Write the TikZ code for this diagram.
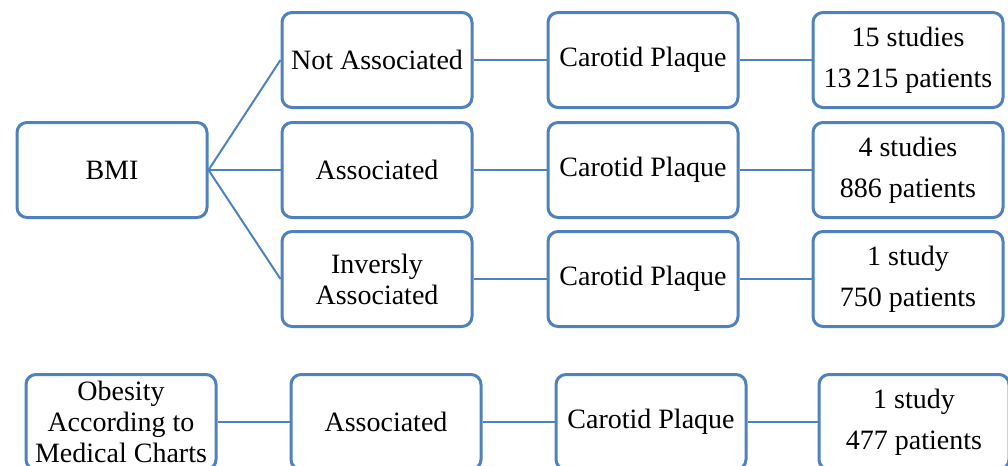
\documentclass[tikz,border=0pt]{standalone}
\usepackage{fontspec}
\setmainfont{Liberation Serif}

\begin{document}
\begin{tikzpicture}[
  x = 0.5pt, y = -0.5pt,
  boxcolor/.style = {draw = {rgb,255:red,79;green,129;blue,189}},
  box/.style = {
    boxcolor, line width = 1.5pt, rounded corners = 5pt,
    fill = white, align = center,
    minimum width = 95pt, minimum height = 47.5pt,
    inner sep = 1pt, font = \fontsize{14}{15.5}\selectfont},
  link/.style = {boxcolor, line width = 1pt}
  ]
  \useasboundingbox (0,0) rectangle (1008,466);

  \node [box] (bmi)     at (112,170) {BMI};
  \node [box] (notass)  at (377,60)  {Not Associated};
  \node [box] (ass)     at (377,170) {Associated};
  \node [box] (invass)  at (377,279) {Inversly\\Associated};
  \node [box] (plaqueA) at (643,60)  {Carotid Plaque};
  \node [box] (plaqueB) at (643,170) {Carotid Plaque};
  \node [box] (plaqueC) at (643,279) {Carotid Plaque};
  \node [box] (statsA)  at (908,60)  {15 studies\\[5pt]13\,215 patients};
  \node [box] (statsB)  at (908,170) {4 studies\\[5pt]886 patients};
  \node [box] (statsC)  at (908,279) {1 study\\[5pt]750 patients};

  \node [box] (obesity) at (121,422) {Obesity\\According to\\Medical Charts};
  \node [box] (assD)    at (386,422) {Associated};
  \node [box] (plaqueD) at (651,422) {Carotid Plaque};
  \node [box] (statsD)  at (914,422) {1 study\\[5pt]477 patients};

  \draw [link] (bmi.east) -- (notass.west);
  \draw [link] (bmi.east) -- (ass.west);
  \draw [link] (bmi.east) -- (invass.west);
  \draw [link] (notass) -- (plaqueA) -- (statsA);
  \draw [link] (ass) -- (plaqueB) -- (statsB);
  \draw [link] (invass) -- (plaqueC) -- (statsC);
  \draw [link] (obesity) -- (assD) -- (plaqueD) -- (statsD);
\end{tikzpicture}
\end{document}
